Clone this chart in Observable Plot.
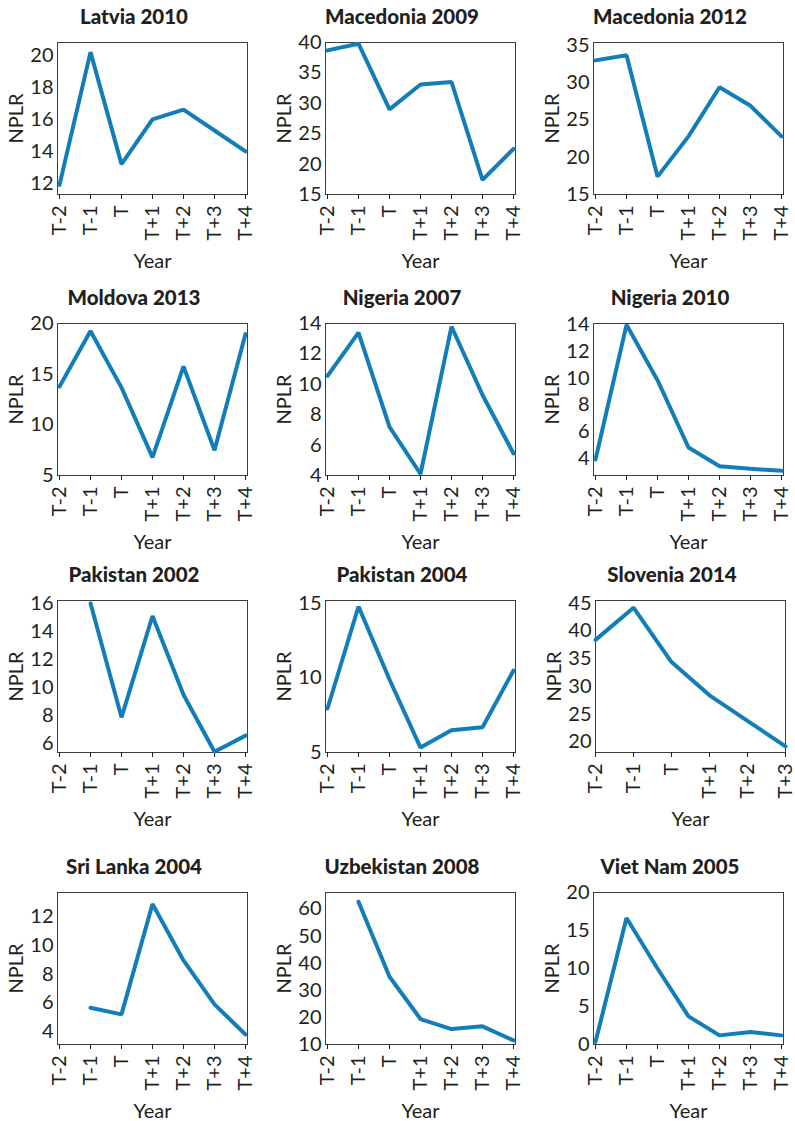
<!DOCTYPE html>
<html><head><meta charset="utf-8">
<script src="https://cdn.jsdelivr.net/npm/d3@7"></script>
<script src="https://cdn.jsdelivr.net/npm/@observablehq/plot@0.6"></script>
<style>
body{margin:0;background:#fff;}
#root{position:relative;width:795px;height:1121px;}
.title{position:absolute;font-family:Lato,sans-serif;font-weight:900;font-size:20.5px;line-height:24px;color:#231f20;white-space:nowrap;transform:translateX(-50%);}
.panel{position:absolute;}
</style></head><body><div id="root"></div>
<script>
const periods = ["T-2", "T-1", "T", "T+1", "T+2", "T+3", "T+4"];
const titles = ["Latvia 2010", "Macedonia 2009", "Macedonia 2012", "Moldova 2013", "Nigeria 2007", "Nigeria 2010",
  "Pakistan 2002", "Pakistan 2004", "Slovenia 2014", "Sri Lanka 2004", "Uzbekistan 2008", "Viet Nam 2005"];

const latvia2010     = [11.9, 20.2, 13.2, 16.0, 16.6, 15.3, 14.0];
const macedonia2009  = [38.7, 39.8, 29.0, 33.1, 33.5, 17.4, 22.5];
const macedonia2012  = [33.0, 33.7, 17.4, 22.8, 29.4, 26.9, 22.8];
const moldova2013    = [13.8, 19.3, 13.7, 6.8, 15.8, 7.5, 19.0];
const nigeria2007    = [10.55, 13.4, 7.2, 4.1, 13.8, 9.3, 5.45];
const nigeria2010    = [3.9, 14.0, 9.85, 4.8, 3.4, 3.2, 3.05];
const pakistan2002   = [null, 16.0, 7.9, 15.1, 9.5, 5.45, 6.6];
const pakistan2004   = [7.95, 14.8, 9.9, 5.33, 6.5, 6.7, 10.5];
const slovenia2014   = [38.4, 44.2, 34.4, 28.4, 23.8, 19.2];
const srilanka2004   = [null, 5.66, 5.2, 12.9, 8.96, 5.9, 3.8];
const uzbekistan2008 = [null, 62.7, 35.0, 19.4, 15.7, 16.7, 11.5];
const vietnam2005    = [0.35, 16.65, 10.0, 3.7, 1.2, 1.65, 1.2];

const series = [latvia2010, macedonia2009, macedonia2012, moldova2013, nigeria2007, nigeria2010,
  pakistan2002, pakistan2004, slovenia2014, srilanka2004, uzbekistan2008, vietnam2005];

const yTicks = [
  [12, 14, 16, 18, 20], [15, 20, 25, 30, 35, 40], [15, 20, 25, 30, 35], [5, 10, 15, 20],
  [4, 6, 8, 10, 12, 14], [4, 6, 8, 10, 12, 14], [6, 8, 10, 12, 14, 16], [5, 10, 15],
  [20, 25, 30, 35, 40, 45], [4, 6, 8, 10, 12], [10, 20, 30, 40, 50, 60], [0, 5, 10, 15, 20]
];
const yDomains = [
  [11.3, 20.8], [15, 40], [15, 35.4], [5, 20.05], [4, 14], [2.7, 14.1],
  [5.4, 16.2], [5, 15.2], [18.1, 45.5], [3.1, 13.7], [10, 66.1], [0, 20]
];

const colFrameLeft = [57, 325, 593];
const rowFrameTop = [42, 323, 600, 892];
const FW = 190, FH = 152, ML = 60, MT = 4, MR = 10, MB = 80;
const root = document.getElementById("root");

titles.forEach((t, i) => {
  const r = Math.floor(i / 3), c = i % 3;
  const fl = colFrameLeft[c] + (i === 8 ? 2 : 0), ft = rowFrameTop[r];
  const vals = series[i];
  const dom = periods.slice(0, vals.length);
  const data = dom.map((p, j) => ({p, v: vals[j]}));
  const chart = Plot.plot({
    width: ML + FW + MR, height: MT + FH + MB,
    marginLeft: ML, marginRight: MR, marginTop: MT, marginBottom: MB,
    style: {fontFamily: "Lato, sans-serif", fontSize: "20px", fontWeight: 400, color: "#231f20", background: "transparent", overflow: "visible"},
    x: {type: "point", domain: dom, padding: 0},
    y: {domain: yDomains[i]},
    marks: [
      Plot.frame({stroke: "#3d3d3d", strokeWidth: 1}),
      Plot.axisX({tickRotate: -90, tickSize: 5, tickPadding: 6, label: "Year", labelAnchor: "center", labelOffset: 73, labelArrow: "none"}),
      Plot.axisY({ticks: yTicks[i], tickSize: 0, tickPadding: 4, label: "NPLR", labelAnchor: "center", labelOffset: 49, labelArrow: "none"}),
      Plot.line(data, {x: "p", y: "v", stroke: "#137db8", strokeWidth: 4, strokeLinejoin: "miter"})
    ]
  });
  const div = document.createElement("div");
  div.className = "panel";
  div.style.left = (fl - ML) + "px";
  div.style.top = (ft - MT) + "px";
  div.appendChild(chart);
  root.appendChild(div);
  const td = document.createElement("div");
  td.className = "title";
  td.textContent = t;
  td.style.left = (fl + 77) + "px";
  td.style.top = (ft - 26 - 12) + "px";
  root.appendChild(td);
});
</script></body></html>
